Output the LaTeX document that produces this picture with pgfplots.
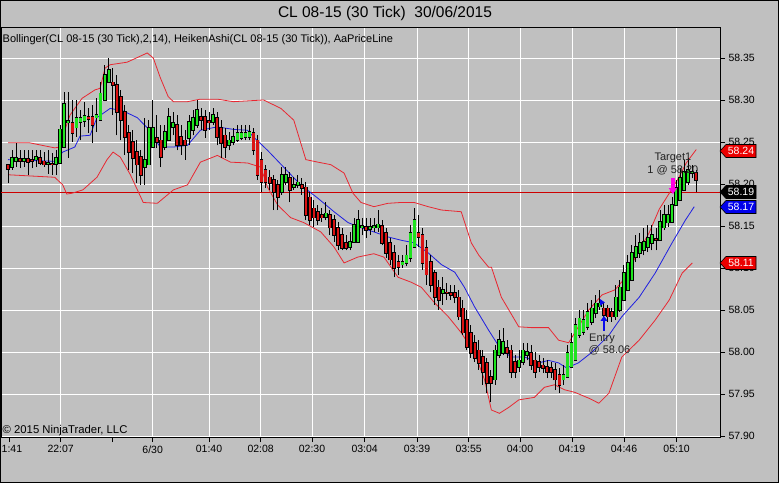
\documentclass[border=0pt]{standalone}
\usepackage{fontspec}
\setmainfont{Liberation Sans}
\usepackage{pgfplots}
\usepackage{pgfplotstable}
\pgfplotsset{compat=1.18}
\usetikzlibrary{arrows.meta}
\definecolor{bg}{RGB}{192,192,192}
\definecolor{hagreen}{RGB}{30,228,30}
\definecolor{hared}{RGB}{218,18,18}
\definecolor{bbred}{RGB}{232,40,50}
\definecolor{bbblue}{RGB}{30,30,225}
\definecolor{tagred}{RGB}{235,0,0}
\definecolor{tagblue}{RGB}{0,0,235}
\definecolor{txtgray}{RGB}{35,35,35}
\definecolor{plred}{RGB}{205,0,0}
\definecolor{entryblue}{RGB}{10,10,235}
\definecolor{exitpink}{RGB}{255,0,230}

\pgfplotstableread{
i o c h l
0 58.223 58.218 58.223 58.201
1 58.220 58.231 58.240 58.217
2 58.227 58.231 58.249 58.220
3 58.230 58.227 58.240 58.219
4 58.227 58.230 58.240 58.220
5 58.230 58.226 58.240 58.211
6 58.229 58.227 58.240 58.219
7 58.229 58.232 58.240 58.220
8 58.231 58.225 58.240 58.223
9 58.227 58.223 58.238 58.220
10 58.224 58.225 58.240 58.212
11 58.224 58.223 58.237 58.211
12 58.224 58.231 58.240 58.211
13 58.225 58.265 58.270 58.225
14 58.244 58.295 58.310 58.244
15 58.273 58.275 58.310 58.231
16 58.273 58.261 58.300 58.250
17 58.267 58.279 58.300 58.256
18 58.274 58.279 58.288 58.252
19 58.275 58.281 58.298 58.268
20 58.280 58.277 58.290 58.261
21 58.280 58.270 58.294 58.249
22 58.279 58.282 58.302 58.262
23 58.276 58.308 58.321 58.276
24 58.300 58.330 58.342 58.300
25 58.321 58.336 58.350 58.321
26 58.321 58.318 58.338 58.282
27 58.318 58.286 58.330 58.258
28 58.304 58.276 58.312 58.252
29 58.286 58.256 58.294 58.235
30 58.261 58.238 58.270 58.217
31 58.250 58.231 58.264 58.213
32 58.238 58.223 58.252 58.201
33 58.232 58.211 58.240 58.199
34 58.220 58.229 58.279 58.199
35 58.223 58.267 58.276 58.223
36 58.244 58.267 58.300 58.244
37 58.255 58.250 58.282 58.243
38 58.252 58.232 58.270 58.220
39 58.244 58.262 58.270 58.240
40 58.252 58.280 58.290 58.252
41 58.268 58.273 58.286 58.258
42 58.270 58.246 58.282 58.240
43 58.256 58.246 58.270 58.235
44 58.252 58.246 58.264 58.229
45 58.255 58.274 58.282 58.246
46 58.264 58.279 58.288 58.258
47 58.270 58.288 58.300 58.267
48 58.280 58.276 58.290 58.264
49 58.280 58.264 58.288 58.255
50 58.275 58.273 58.286 58.264
51 58.274 58.282 58.290 58.270
52 58.279 58.256 58.286 58.246
53 58.267 58.249 58.276 58.231
54 58.258 58.244 58.267 58.231
55 58.246 58.252 58.262 58.240
56 58.250 58.256 58.267 58.246
57 58.252 58.261 58.270 58.250
58 58.255 58.261 58.270 58.252
59 58.256 58.261 58.270 58.252
60 58.256 58.262 58.270 58.252
61 58.261 58.240 58.267 58.235
62 58.252 58.211 58.258 58.205
63 58.229 58.202 58.238 58.190
64 58.217 58.202 58.223 58.195
65 58.208 58.201 58.217 58.193
66 58.205 58.190 58.211 58.169
67 58.199 58.184 58.205 58.169
68 58.190 58.211 58.220 58.187
69 58.202 58.211 58.220 58.199
70 58.207 58.193 58.214 58.178
71 58.196 58.199 58.208 58.193
72 58.199 58.202 58.211 58.195
73 58.199 58.195 58.207 58.187
74 58.196 58.163 58.202 58.157
75 58.184 58.157 58.190 58.151
76 58.171 58.160 58.181 58.149
77 58.167 58.157 58.175 58.151
78 58.163 58.160 58.171 58.155
79 58.161 58.165 58.178 58.157
80 58.163 58.148 58.169 58.139
81 58.157 58.139 58.163 58.131
82 58.148 58.127 58.155 58.121
83 58.139 58.124 58.148 58.121
84 58.130 58.124 58.139 58.121
85 58.125 58.131 58.143 58.121
86 58.131 58.151 58.160 58.131
87 58.131 58.157 58.169 58.131
88 58.148 58.150 58.160 58.139
89 58.149 58.145 58.160 58.136
90 58.146 58.149 58.160 58.139
91 58.148 58.150 58.160 58.143
92 58.148 58.152 58.169 58.143
93 58.150 58.130 58.157 58.127
94 58.142 58.118 58.148 58.112
95 58.130 58.110 58.136 58.104
96 58.118 58.100 58.127 58.089
97 58.107 58.101 58.115 58.092
98 58.104 58.107 58.115 58.100
99 58.106 58.115 58.127 58.102
100 58.112 58.142 58.151 58.107
101 58.125 58.157 58.171 58.125
102 58.142 58.137 58.163 58.125
103 58.139 58.106 58.148 58.098
104 58.124 58.092 58.133 58.080
105 58.107 58.080 58.115 58.071
106 58.094 58.065 58.098 58.056
107 58.077 58.062 58.086 58.050
108 58.070 58.074 58.089 58.056
109 58.071 58.070 58.082 58.062
110 58.070 58.068 58.080 58.062
111 58.070 58.065 58.080 58.058
112 58.065 58.042 58.074 58.038
113 58.052 58.023 58.062 58.020
114 58.038 58.006 58.050 58.002
115 58.023 57.999 58.032 57.993
116 58.011 57.993 58.020 57.988
117 58.002 57.987 58.014 57.979
118 57.994 57.976 58.002 57.961
119 57.987 57.963 57.993 57.951
120 57.970 57.963 57.979 57.940
121 57.967 58.002 58.008 57.961
122 57.996 58.014 58.026 57.993
123 57.999 58.012 58.029 57.996
124 58.005 57.999 58.014 57.993
125 58.002 57.976 58.008 57.969
126 57.988 57.976 57.996 57.969
127 57.982 57.990 58.002 57.976
128 57.988 58.002 58.011 57.984
129 57.996 58.000 58.011 57.990
130 57.999 57.984 58.008 57.979
131 57.990 57.976 58.000 57.969
132 57.988 57.982 57.996 57.976
133 57.984 57.981 57.993 57.975
134 57.982 57.976 57.990 57.969
135 57.981 57.976 57.988 57.969
136 57.979 57.967 57.987 57.955
137 57.973 57.961 57.981 57.951
138 57.967 57.973 57.984 57.961
139 57.970 57.999 58.008 57.970
140 57.982 58.011 58.023 57.982
141 57.990 58.032 58.040 57.990
142 58.020 58.040 58.050 58.017
143 58.024 58.038 58.050 58.020
144 58.030 58.048 58.058 58.026
145 58.036 58.052 58.062 58.032
146 58.046 58.058 58.068 58.040
147 58.054 58.058 58.074 58.050
148 58.052 58.044 58.058 58.038
149 58.052 58.042 58.056 58.036
150 58.048 58.042 58.052 58.036
151 58.042 58.065 58.080 58.038
152 58.050 58.077 58.086 58.048
153 58.062 58.094 58.104 58.062
154 58.074 58.106 58.115 58.074
155 58.086 58.118 58.127 58.086
156 58.113 58.125 58.139 58.107
157 58.118 58.130 58.142 58.112
158 58.121 58.131 58.148 58.115
159 58.125 58.136 58.151 58.119
160 58.130 58.139 58.151 58.121
161 58.135 58.133 58.148 58.121
162 58.133 58.155 58.169 58.133
163 58.148 58.163 58.175 58.145
164 58.154 58.163 58.175 58.149
165 58.155 58.175 58.184 58.155
166 58.175 58.195 58.205 58.175
167 58.181 58.207 58.219 58.181
168 58.193 58.214 58.229 58.193
169 58.202 58.217 58.231 58.199
170 58.213 58.214 58.223 58.207
171 58.213 58.205 58.217 58.190
}\candles

\begin{document}
\begin{tikzpicture}
\fill[bg] (0,0) rectangle (779pt,483pt);
\begin{axis}[
  at={(1pt,46pt)}, anchor=south west,
  scale only axis, width=719pt, height=410pt,
  xmin=-1.74, xmax=176.9, ymin=57.8988, ymax=58.3869,
  axis line style={black, line width=0.9pt},
  grid=major, major grid style={white, line width=0.9pt},
  tick align=outside, major tick length=5pt,
  tick style={black, line width=0.9pt},
  xtick pos=left, ytick pos=right, yticklabel pos=right,
  xtick={13.09,35.95,49.94,62.78,75.53,88.62,101.61,114.46,127.20,140.12,153.04,166.11},
  xticklabels={22:07,6/30,01:40,02:08,02:30,03:04,03:39,03:55,04:00,04:19,04:46,05:10},
  extra x ticks={0.25,25.94},
  extra x tick labels={21:41,{}},
  extra x tick style={major grid style={draw=none}},
  ytick={57.90,57.95,58.00,58.05,58.10,58.15,58.20,58.25,58.30,58.35},
  yticklabel style={/pgf/number format/fixed, /pgf/number format/precision=2, /pgf/number format/fixed zerofill, font=\fontsize{10.5}{12}\selectfont},
  xticklabel style={font=\fontsize{10.5}{12}\selectfont},
  /pgf/number format/assume math mode=true,
  candle/.style={draw=none, mark=none, forget plot, error bars/y dir=plus, error bars/y explicit, error bars/error mark=none},
]
% price line
\addplot[plred, line width=0.9pt] coordinates {(-1.74,58.19) (176.9,58.19)};
% Bollinger upper
\addplot[bbred, line width=0.8pt] coordinates {
(0,58.249) (5.4,58.249) (11.6,58.243) (12.9,58.244) (14.1,58.264) (15.4,58.282) (18.4,58.302) (21.6,58.312) (22.9,58.314) (24.1,58.338) (25.4,58.342) (29.6,58.345) (34.6,58.356) (36.1,58.350) (37.8,58.327) (39.8,58.304) (41.1,58.298) (44.6,58.298) (47.8,58.301) (52.0,58.301) (56.0,58.298) (63.5,58.300) (67.8,58.290) (71.0,58.276) (74.0,58.229) (77.0,58.226) (80.2,58.223) (83.5,58.213) (85.7,58.189) (87.7,58.178) (90.9,58.173) (94.4,58.177) (97.7,58.178) (100.9,58.178) (104.4,58.173) (107.7,58.169) (112.6,58.167) (115.1,58.130) (117,58.115) (119.4,58.101) (120.1,58.101) (122.6,58.065) (126.9,58.030) (130.1,58.029) (134.3,58.029) (136.8,58.014) (139.3,58.011) (141.7,58.030) (144.3,58.050) (147.6,58.068) (150.8,58.074) (153.3,58.088) (155.8,58.112) (159.3,58.142) (161.8,58.170) (164.3,58.189) (166.7,58.208) (168.5,58.225) (171,58.241)};
% Bollinger middle
\addplot[bbblue, line width=0.8pt] coordinates {
(0,58.229) (11.6,58.227) (13.6,58.238) (16.6,58.244) (17.9,58.257) (20.4,58.258) (22.1,58.279) (25.4,58.290) (28.6,58.287) (32.1,58.279) (34.6,58.267) (37.8,58.244) (41.1,58.244) (44.6,58.246) (47.8,58.264) (52.0,58.268) (56.0,58.265) (59.5,58.264) (61.0,58.256) (64.5,58.240) (68.5,58.220) (72.7,58.199) (77.0,58.183) (81.0,58.167) (84.5,58.154) (87.7,58.148) (90.9,58.143) (94.4,58.137) (97.7,58.133) (100.9,58.130) (104.4,58.118) (107.7,58.104) (111.0,58.095) (113.4,58.077) (115.9,58.054) (119.4,58.026) (122.6,58.002) (125.1,57.994) (128.4,57.994) (131.8,57.987) (134.3,57.990) (136.8,57.987) (138.8,57.981) (141.7,57.987) (144.9,57.999) (149.3,58.020) (152.5,58.042) (156.8,58.065) (160.8,58.094) (165.0,58.130) (168.3,58.157) (170.5,58.173)};
% Bollinger lower
\addplot[bbred, line width=0.8pt] coordinates {
(0,58.211) (11.6,58.208) (13.6,58.199) (14.6,58.188) (15.9,58.189) (18.6,58.193) (22.1,58.208) (24.6,58.229) (26.1,58.238) (27.9,58.232) (30.4,58.211) (33.6,58.178) (37.1,58.177) (41.1,58.193) (44.6,58.199) (47.8,58.226) (52.0,58.234) (55.3,58.226) (59.5,58.225) (62.8,58.220) (64.5,58.196) (67.0,58.175) (70.2,58.160) (73.5,58.154) (77.7,58.143) (81.0,58.125) (83.5,58.106) (86.9,58.113) (90.9,58.117) (93.4,58.113) (96.9,58.089) (100.2,58.083) (102.7,58.077) (105.9,58.059) (109.4,58.042) (112.6,58.023) (115.9,57.999) (118.4,57.967) (120.1,57.931) (122.1,57.927) (124.4,57.934) (126.9,57.943) (130.8,57.946) (133.3,57.958) (135.8,57.961) (138.3,57.955) (140.8,57.952) (144.3,57.945) (146.8,57.939) (149.3,57.951) (152.5,57.994) (156.8,58.014) (160.8,58.038) (164.3,58.062) (167.5,58.094) (170.0,58.106)};
% wicks
\addplot[candle, error bars/error bar style={draw=black, line width=1pt}]
  table[x=i, y=l, y error plus expr={\thisrow{h}-\thisrow{l}}] {\candles};
% body outline
\addplot[candle, error bars/error bar style={draw=black, line width=3.8pt}]
  table[x=i, y expr={min(\thisrow{o},\thisrow{c})-0.0009}, y error plus expr={abs(\thisrow{c}-\thisrow{o})+0.0018}] {\candles};
% green bodies
\addplot[candle, restrict expr to domain={\thisrow{c}-\thisrow{o}}{0:1}, error bars/error bar style={draw=hagreen, line width=2.2pt}]
  table[x=i, y expr={min(\thisrow{o},\thisrow{c})}, y error plus expr={abs(\thisrow{c}-\thisrow{o})}] {\candles};
% red bodies
\addplot[candle, restrict expr to domain={\thisrow{c}-\thisrow{o}}{-1:-0.0001}, error bars/error bar style={draw=hared, line width=2.2pt}]
  table[x=i, y expr={min(\thisrow{o},\thisrow{c})}, y error plus expr={abs(\thisrow{c}-\thisrow{o})}] {\candles};
% entry / exit markers
\draw[-{Triangle[width=6.5pt,length=5pt]}, line width=2.6pt, entryblue] (axis cs:148.07,58.025) -- (axis cs:148.07,58.043);
\fill[entryblue] (axis cs:147.1,58.063) -- (axis cs:147.1,58.055) -- (axis cs:148.3,58.059) -- cycle;
\draw[-{Triangle[width=8pt,length=6pt]}, line width=4pt, exitpink] (axis cs:165.2,58.207) -- (axis cs:165.2,58.188);
\node[anchor=north west, align=left, inner sep=0pt, text=txtgray, font=\fontsize{11}{12.5}\selectfont] at (axis cs:144.2,58.022) {\hspace*{0.6pt}Entry\\@ 58.06};
\node[align=center, inner sep=0pt, text=txtgray, font=\fontsize{11}{12.5}\selectfont] at (axis cs:165.2,58.224) {Target1\\1 @ 58.20};
\end{axis}
% title and texts
\node[font=\fontsize{15.5}{18}\selectfont] at (385pt,469.5pt) {CL 08-15 (30 Tick)\ \ 30/06/2015};
\node[anchor=west, inner sep=0pt, font=\fontsize{11}{13}\selectfont] at (2.5pt,443.5pt) {Bollinger(CL 08-15 (30 Tick),2,14), HeikenAshi(CL 08-15 (30 Tick)), AaPriceLine};
\node[anchor=west, inner sep=0pt, font=\fontsize{11.3}{13}\selectfont] at (2.5pt,52pt) {© 2015 NinjaTrader, LLC};
% price tags
\draw[black, fill=tagred, line width=0.6pt] (720pt,332pt) -- (726pt,338.5pt) -- (756pt,338.5pt) -- (756pt,325.5pt) -- (726pt,325.5pt) -- cycle;
\node[text=white, font=\fontsize{10.5}{12}\selectfont] at (741pt,332pt) {58.24};
\draw[black, fill=black, line width=0.6pt] (720pt,291pt) -- (726pt,297.5pt) -- (756pt,297.5pt) -- (756pt,284.5pt) -- (726pt,284.5pt) -- cycle;
\node[text=white, font=\fontsize{10.5}{12}\selectfont] at (741pt,291pt) {58.19};
\draw[black, fill=tagblue, line width=0.6pt] (720pt,276pt) -- (726pt,282.5pt) -- (756pt,282.5pt) -- (756pt,269.5pt) -- (726pt,269.5pt) -- cycle;
\node[text=white, font=\fontsize{10.5}{12}\selectfont] at (741pt,276pt) {58.17};
\draw[black, fill=tagred, line width=0.6pt] (720pt,220pt) -- (726pt,226.5pt) -- (756pt,226.5pt) -- (756pt,213.5pt) -- (726pt,213.5pt) -- cycle;
\node[text=white, font=\fontsize{10.5}{12}\selectfont] at (741pt,220pt) {58.11};
\draw[black, line width=1pt] (0.5pt,0.5pt) rectangle (778.5pt,482.5pt);
\pgfresetboundingbox
\useasboundingbox (0,0) rectangle (779pt,483pt);
\end{tikzpicture}
\end{document}
